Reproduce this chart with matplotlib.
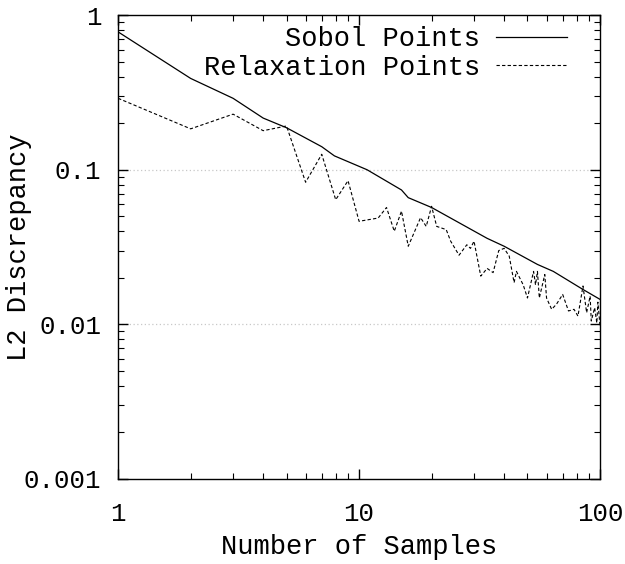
import numpy as np
import matplotlib
matplotlib.use("Agg")
import matplotlib.pyplot as plt
from matplotlib.ticker import LogLocator, NullFormatter, FixedLocator, FixedFormatter

# values
sobol_n = [1, 2, 3, 4, 5, 7, 7.9, 10.8, 15, 16, 20, 34, 40, 55, 64, 85, 100]
sobol_d = [0.78, 0.39, 0.29, 0.216, 0.187, 0.141, 0.123, 0.100, 0.074, 0.066,
           0.057, 0.036, 0.032, 0.0244, 0.022, 0.0168, 0.0145]

relax_n = [1, 2, 3, 4, 5, 6, 7, 8, 9, 10, 12, 13, 14, 15, 16, 18, 19, 20, 21, 23, 24,
           26, 28, 29, 30, 32, 34, 36, 38, 40, 42, 44, 45, 48, 50, 53, 54, 55, 56, 59,
           60, 63, 66, 70, 74, 78, 81, 85, 88, 91, 92, 95, 97, 98, 100]
relax_d = [0.29, 0.184, 0.229, 0.179, 0.192, 0.083, 0.126, 0.064, 0.085, 0.0464,
           0.0487, 0.057, 0.040, 0.054, 0.032, 0.049, 0.043, 0.058, 0.043, 0.041, 0.0345,
           0.028, 0.0327, 0.031, 0.0345, 0.0205, 0.023, 0.0216, 0.030, 0.031, 0.0276,
           0.0186, 0.022, 0.018, 0.0148, 0.022, 0.018, 0.022, 0.0148, 0.021,
           0.0148, 0.0125, 0.0135, 0.0156, 0.0122, 0.0125, 0.0113, 0.0177, 0.0119,
           0.0152, 0.0105, 0.0128, 0.0102, 0.0139, 0.0098]

xticks = [1, 10, 100]
xlabels = ["1", "10", "100"]
yticks = [0.001, 0.01, 0.1, 1]
ylabels = ["0.001", "0.01", "0.1", "1"]

plt.rcParams['font.family'] = ['Liberation Mono', 'DejaVu Sans Mono']

fig = plt.figure(figsize=(6.25, 5.64), dpi=100)
ax = fig.add_axes([0.189, 0.151, 0.771, 0.822])

ax.plot(sobol_n, sobol_d, color="black", lw=0.9, label="Sobol Points")
ax.plot(relax_n, relax_d, color="black", lw=0.8, ls=(0, (3, 2)), label="Relaxation Points")

ax.set_xscale("log")
ax.set_yscale("log")
ax.set_xlim(1, 100)
ax.set_ylim(0.001, 1)

ax.xaxis.set_major_locator(FixedLocator(xticks))
ax.xaxis.set_major_formatter(FixedFormatter(xlabels))
ax.yaxis.set_major_locator(FixedLocator(yticks))
ax.yaxis.set_major_formatter(FixedFormatter(ylabels))
ax.xaxis.set_minor_locator(LogLocator(base=10, subs=np.arange(2, 10)))
ax.yaxis.set_minor_locator(LogLocator(base=10, subs=np.arange(2, 10)))
ax.xaxis.set_minor_formatter(NullFormatter())
ax.yaxis.set_minor_formatter(NullFormatter())

ax.tick_params(which="both", direction="in", top=True, right=True, color="black")
ax.tick_params(which="major", length=7, width=1, labelsize=18.5, pad=12)
ax.tick_params(which="minor", length=4, width=0.8)
ax.tick_params(axis="x", which="major", pad=17)

for y in [0.1, 0.01]:
    ax.axhline(y, color="#c8c8c8", lw=0.9, ls=(0, (1, 2)), zorder=0)

for s in ax.spines.values():
    s.set_linewidth(1.0)

ax.set_xlabel("Number of Samples", fontsize=19.5)
ax.set_ylabel("L2 Discrepancy", fontsize=19.5)
ax.xaxis.set_label_coords(0.5, -0.12)
ax.yaxis.set_label_coords(-0.178, 0.5)

ax.legend(loc="upper right", bbox_to_anchor=(0.948, 0.994), frameon=False,
          markerfirst=False, fontsize=19.5, handlelength=2.6, handletextpad=0.6,
          borderaxespad=0, labelspacing=0.1, borderpad=0.3)

fig.savefig("out.png", dpi=100)
